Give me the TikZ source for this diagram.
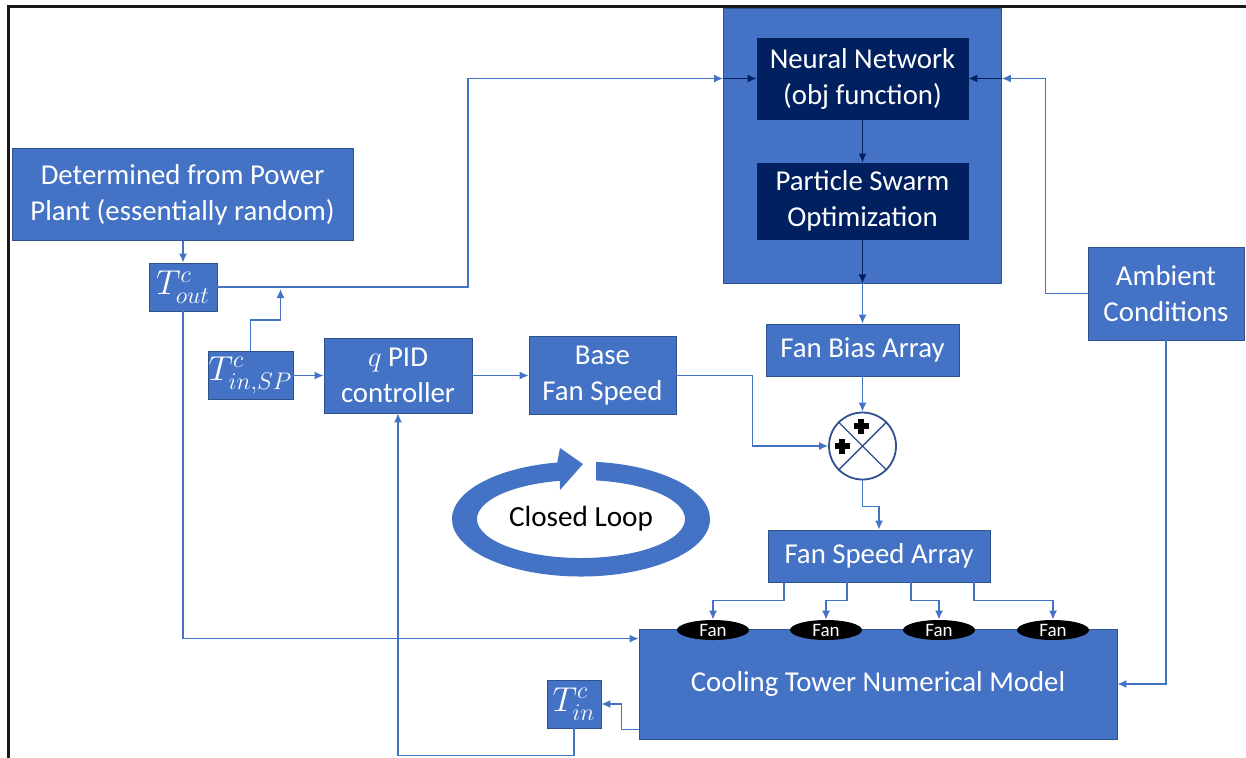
\documentclass[tikz,border=0pt]{standalone}
\usepackage{amsmath}
\usepackage{fontspec}
\setmainfont{Carlito}
\usepackage{tikz}
\usetikzlibrary{shapes.geometric,calc,arrows.meta}
\definecolor{offblue}{HTML}{4472C4}
\definecolor{offline}{HTML}{2F528F}
\definecolor{navy}{HTML}{002060}

\begin{document}
\begin{tikzpicture}[x=0.5pt,y=-0.5pt,
	box/.style={draw=offline,fill=offblue,text=white,align=center,inner sep=0pt,font=\fontsize{14.4}{18}\selectfont},
	dbox/.style={box,fill=navy,draw=navy},
	mbox/.style={box,font=\fontsize{17.28}{18}\selectfont},
	fan/.style={ellipse,fill=black,text=white,minimum width=36pt,minimum height=10pt,inner sep=0pt,font=\fontsize{9.5}{10}\selectfont},
	wire/.style={draw=offblue,line width=0.65pt,->,>={Latex[length=4.5pt,width=4pt]}},
	dwire/.style={wire,draw=navy}]
	\useasboundingbox (0,0) rectangle (1246,757);
	\draw[line width=1.5pt,black!90] (8,760) -- (8,6) -- (1250,6);
	
	\node[box,minimum width=139pt,minimum height=137.5pt] (opt) at (862.5,145.5) {};
	\node[dbox,minimum width=105.5pt,minimum height=40.5pt] (nn) at (862.5,78.5) {Neural Network\\(obj function)};
	\node[dbox,minimum width=105.5pt,minimum height=38pt] (pso) at (862.5,201) {Particle Swarm\\Optimization};
	\node[box,minimum width=170.5pt,minimum height=46pt] (det) at (182.5,194.5) {Determined from Power\\Plant (essentially random)};
	\node[mbox,minimum width=34pt,minimum height=24pt] (tout) at (183,287) {$T^{c}_{out}$};
	\node[mbox,minimum width=42.5pt,minimum height=24pt] (tsp) at (250.5,375.5) {$T^{c}_{in,SP}$};
	\node[box,minimum width=74pt,minimum height=37.5pt] (pid) at (398,375.5) {$q$ PID\\controller};
	\node[box,minimum width=73.5pt,minimum height=39pt] (base) at (602.5,375.5) {Base\\Fan Speed};
	\node[box,minimum width=96.5pt,minimum height=26pt] (bias) at (862.5,350) {Fan Bias Array};
	\node[box,minimum width=78pt,minimum height=46.5pt] (amb) at (1166,293.5) {Ambient\\Conditions};
	\node[circle,draw=offline,fill=white,line width=0.9pt,minimum size=33.5pt,inner sep=0pt] (sum) at (862.5,446) {};
	\node[box,minimum width=111pt,minimum height=26pt] (fsa) at (879,556) {Fan Speed Array};
	\node[box,minimum width=239pt,minimum height=55pt] (ct) at (878,684) {Cooling Tower Numerical Model};
	\node[mbox,minimum width=27pt,minimum height=24pt] (tin) at (574,704) {$T^{c}_{in}$};
	\node[font=\fontsize{14.6}{17}\selectfont] (loop) at (581,519) {Closed Loop};
	
	\draw[offline,line width=0.7pt] (sum.north west) -- (sum.south east) (sum.north east) -- (sum.south west);
	\foreach \px/\py in {-1.5/-20,-20.5/0}{
		\fill ($(sum)+(\px-7.5,\py-3)$) rectangle ++(15,6);
		\fill ($(sum)+(\px-3,\py-7.5)$) rectangle ++(6,15);
	}
	
	\fill[offblue] ($(loop)+(-83.3:129 and 57.5)$) arc[start angle=-83.3,end angle=259.4,x radius=129,y radius=57.5]
		-- (560,448) -- (583,464) -- (560,490) -- ($(loop)+(258.3:104 and 39)$)
		arc[start angle=258.3,end angle=-81.7,x radius=104,y radius=39] -- cycle;
	
	\coordinate (up) at (468,287);
	\coordinate (tj) at (280.5,289);
	\draw[wire] (tout.north |- det.south) -- (tout.north);
	\draw[wire] (tout.east) -- (up) |- (opt.west |- nn.west);
	\draw[dwire] (opt.west |- nn.west) -- (nn.west);
	\draw[wire] (tsp.north) |- ++(30,-31) -- (tj);
	\draw[wire] (tsp.east) -- (pid.west);
	\draw[wire] (pid.east) -- (base.west);
	\draw[dwire] (nn.south) -- (pso.north);
	\draw[dwire] (pso.south) -- (opt.south);
	\draw[wire] (opt.south) -- (bias.north);
	\draw[wire] (bias.south) -- (sum.north);
	\draw[wire] (base.east) -- ++(76,0) |- (sum.west);
	\draw[wire] (sum.south) -- ++(0,26) -| (fsa.north);
	\draw[wire] (amb.west) -- ++(-42,0) |- (opt.east |- nn.east);
	\draw[dwire] (opt.east |- nn.east) -- (nn.east);
	\draw[wire] (amb.south) |- (ct.east);
	\draw[wire] (tout.south) |- ([yshift=-5pt]ct.north west);
	\draw[wire] ([yshift=5pt]ct.south west) -- ++(-17,0) |- (tin.east);
	\draw[wire] (tin.south) -- ++(0,27) -| (pid.south);
	
	\foreach \i/\fx/\dx in {1/713/-95,2/826/-32,3/939/32,4/1053/95}{
		\node[fan] (fan\i) at (\fx,630) {Fan};
		\draw[wire] ($(fsa.south)+(\dx,0)$) -- ++(0,18) -| (fan\i.north);
	}
\end{tikzpicture}
\end{document}
